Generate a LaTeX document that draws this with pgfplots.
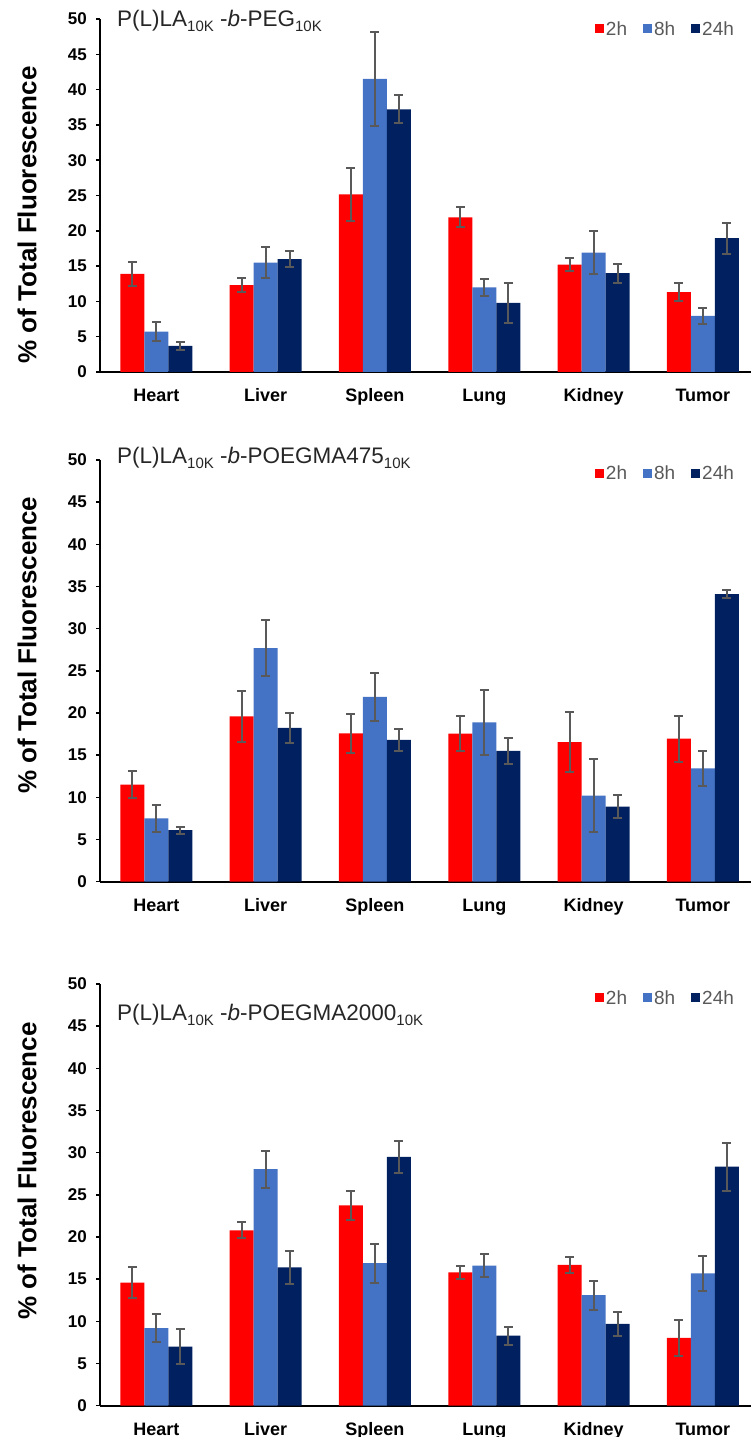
\documentclass[border=0pt]{standalone}
\usepackage{pgfplots}
\pgfplotsset{compat=1.18}
\usepackage{pgfplotstable}
\usepackage{fontspec}
\setmainfont{Liberation Sans}
\definecolor{cred}{HTML}{FF0000}
\definecolor{cblue}{HTML}{4472C4}
\definecolor{cnavy}{HTML}{002060}
\definecolor{errgray}{HTML}{595959}
\definecolor{legtext}{HTML}{595959}
\definecolor{titletext}{HTML}{262626}
\newcommand\sub[1]{\raisebox{-0.22em}{\fontsize{15}{15}\selectfont #1}}

\pgfplotstableread{
x r re b be n ne
0 13.9 1.7 5.7 1.35 3.7 0.6
1 12.3 1.0 15.5 2.15 16.0 1.2
2 25.15 3.7 41.5 6.65 37.2 2.0
3 21.9 1.4 12.0 1.2 9.8 2.8
4 15.2 0.9 16.9 3.05 14.0 1.35
5 11.3 1.25 7.95 1.1 18.95 2.2
}\tabA
\pgfplotstableread{
x r re b be n ne
0 11.5 1.6 7.5 1.55 6.1 0.4
1 19.6 3.05 27.7 3.3 18.25 1.75
2 17.6 2.3 21.9 2.85 16.8 1.35
3 17.55 2.05 18.9 3.85 15.5 1.5
4 16.55 3.55 10.2 4.35 8.9 1.4
5 16.95 2.7 13.45 2.05 34.1 0.5
}\tabB
\pgfplotstableread{
x r re b be n ne
0 14.6 1.85 9.2 1.7 7.0 2.05
1 20.8 0.95 28.05 2.2 16.4 2.0
2 23.75 1.75 16.9 2.3 29.5 1.9
3 15.8 0.75 16.6 1.35 8.3 1.05
4 16.7 0.95 13.1 1.7 9.7 1.4
5 8.05 2.1 15.7 2.1 28.35 2.85
}\tabC

\pgfplotsset{panel/.style={
  scale only axis, width=651pt, clip=false,
  xmin=-0.515, xmax=5.44, ymin=0, ymax=50,
  enlargelimits=false,
  ytick={0,5,...,50},
  xtick={0,...,5}, xticklabels={Heart,Liver,Spleen,Lung,Kidney,Tumor},
  axis x line=bottom, axis y line=left,
  axis line style={line width=2pt,-,black},
  xtick style={draw=none},
  ytick style={line width=1.5pt, black},
  tick align=outside, major tick length=4pt,
  /pgf/number format/assume math mode=true,
  yticklabel style={font=\fontsize{17}{20}\selectfont\bfseries, anchor=east, inner sep=0pt, xshift=-9pt},
  xticklabel style={font=\fontsize{18}{21}\selectfont\bfseries, anchor=base, inner sep=0pt, yshift=-26pt},
  ybar=0pt, bar width=24pt,
  ylabel={\% of Total Fluorescence},
  every axis y label/.style={font=\fontsize{26}{30}\selectfont\bfseries, rotate=90, anchor=center},
  legend columns=3,
  legend style={draw=none, fill=none, font=\fontsize{19}{22}\selectfont, text=legtext, anchor=west, inner sep=0pt,
    /tikz/every even column/.append style={column sep=14pt}},
  legend image code/.code={\fill[##1] (0pt,-4.5pt) rectangle (9pt,4.5pt);},
  error bars/y dir=both, error bars/y explicit,
  error bars/error bar style={line width=2pt, color=errgray},
  error bars/error mark options={rotate=90, mark size=4.5pt, line width=2pt, color=errgray},
}}

\begin{document}
\begin{tikzpicture}
\useasboundingbox (0pt,0pt) rectangle (751pt,1437pt);
% Panel 1
\begin{axis}[panel, height=353pt, at={(100pt,1065pt)}, anchor=south west,
  ylabel style={at={(axis description cs:-0.112,0.445)}},
  legend style={at={(0.760,0.972)}}]
\addplot[fill=cred, draw=none] table[x=x,y=r,y error=re]{\tabA};
\addplot[fill=cblue, draw=none] table[x=x,y=b,y error=be]{\tabA};
\addplot[fill=cnavy, draw=none] table[x=x,y=n,y error=ne]{\tabA};
\legend{2h,8h,24h}
\node[anchor=base west, inner sep=0pt, font=\fontsize{22.5}{26}\selectfont, text=titletext] at (axis cs:-0.36,48.9) {P(L)LA\sub{10K} -\textit{b}-PEG\sub{10K}};
\end{axis}
% Panel 2
\begin{axis}[panel, height=421.7pt, at={(100pt,555.3pt)}, anchor=south west,
  ylabel style={at={(axis description cs:-0.112,0.561)}},
  legend style={at={(0.760,0.969)}}]
\addplot[fill=cred, draw=none] table[x=x,y=r,y error=re]{\tabB};
\addplot[fill=cblue, draw=none] table[x=x,y=b,y error=be]{\tabB};
\addplot[fill=cnavy, draw=none] table[x=x,y=n,y error=ne]{\tabB};
\legend{2h,8h,24h}
\node[anchor=base west, inner sep=0pt, font=\fontsize{22.5}{26}\selectfont, text=titletext] at (axis cs:-0.36,49.6) {P(L)LA\sub{10K} -\textit{b}-POEGMA475\sub{10K}};
\end{axis}
% Panel 3
\begin{axis}[panel, height=421.7pt, at={(100pt,31.3pt)}, anchor=south west,
  ylabel style={at={(axis description cs:-0.112,0.557)}},
  legend style={at={(0.760,0.967)}}]
\addplot[fill=cred, draw=none] table[x=x,y=r,y error=re]{\tabC};
\addplot[fill=cblue, draw=none] table[x=x,y=b,y error=be]{\tabC};
\addplot[fill=cnavy, draw=none] table[x=x,y=n,y error=ne]{\tabC};
\legend{2h,8h,24h}
\node[anchor=base west, inner sep=0pt, font=\fontsize{22.5}{26}\selectfont, text=titletext] at (axis cs:-0.36,45.7) {P(L)LA\sub{10K} -\textit{b}-POEGMA2000\sub{10K}};
\end{axis}
\end{tikzpicture}
\end{document}
